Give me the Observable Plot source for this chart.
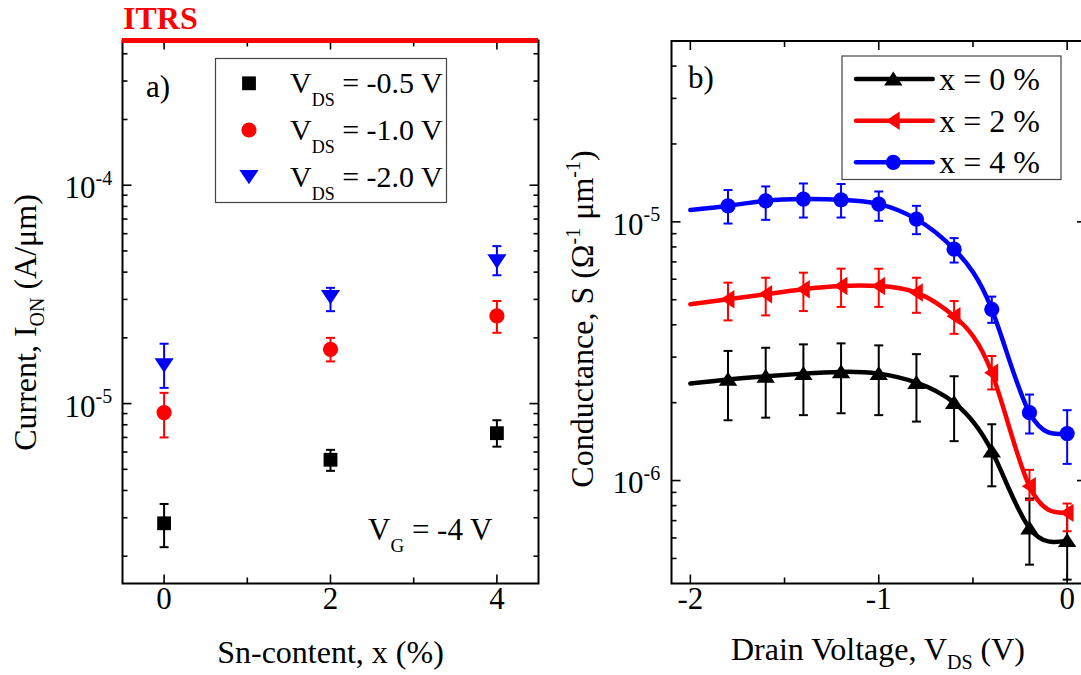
<!DOCTYPE html>
<html><head><meta charset="utf-8">
<script src="https://cdn.jsdelivr.net/npm/d3@7"></script>
<script src="https://cdn.jsdelivr.net/npm/@observablehq/plot@0.6"></script>
<style>
html,body{margin:0;padding:0;background:#fff;overflow:hidden;width:1081px;height:675px;}
#wrap{position:relative;width:1081px;height:675px;overflow:hidden;background:#fff;}
#wrap svg{position:absolute;top:0;}
</style></head><body><div id="wrap"></div>
<script>
// ---------- Panel a data ----------
const snContent = [0, 2, 4];
const ion05 = [2.83e-6, 5.53e-6, 7.32e-6];
const ion05Lo = [2.2e-6, 4.92e-6, 6.35e-6];
const ion05Hi = [3.47e-6, 6.14e-6, 8.39e-6];
const ion10 = [9.1e-6, 1.77e-5, 2.52e-5];
const ion10Lo = [7.0e-6, 1.56e-5, 2.11e-5];
const ion10Hi = [1.12e-5, 2.0e-5, 2.95e-5];
const ion20 = [1.50e-5, 3.08e-5, 4.49e-5];
const ion20Lo = [1.18e-5, 2.65e-5, 3.87e-5];
const ion20Hi = [1.88e-5, 3.39e-5, 5.26e-5];
const itrsLevel = [4.6e-4];
const legendA = ["-0.5", "-1.0", "-2.0"];

// ---------- Panel b data ----------
const vds = [-1.8, -1.6, -1.4, -1.2, -1.0, -0.8, -0.6, -0.4, -0.2, 0];
const g0 = [2.46e-6, 2.53e-6, 2.59e-6, 2.63e-6, 2.59e-6, 2.39e-6, 2.0e-6, 1.30e-6, 6.55e-7, 5.86e-7];
const g0Lo = [1.71e-6, 1.75e-6, 1.79e-6, 1.82e-6, 1.79e-6, 1.69e-6, 1.42e-6, 9.5e-7, 4.73e-7, 4.14e-7];
const g0Hi = [3.17e-6, 3.26e-6, 3.36e-6, 3.39e-6, 3.33e-6, 3.08e-6, 2.53e-6, 1.65e-6, 8.52e-7, 7.56e-7];
const g2 = [5.02e-6, 5.25e-6, 5.49e-6, 5.65e-6, 5.65e-6, 5.33e-6, 4.32e-6, 2.61e-6, 9.5e-7, 7.5e-7];
const g2Lo = [4.16e-6, 4.35e-6, 4.52e-6, 4.69e-6, 4.69e-6, 4.45e-6, 3.69e-6, 2.25e-6, 8.4e-7, 6.37e-7];
const g2Hi = [5.82e-6, 6.08e-6, 6.36e-6, 6.59e-6, 6.59e-6, 6.08e-6, 4.94e-6, 3.03e-6, 1.10e-6, 8.15e-7];
const g4 = [1.153e-5, 1.206e-5, 1.224e-5, 1.217e-5, 1.171e-5, 1.024e-5, 7.84e-6, 4.59e-6, 1.83e-6, 1.52e-6];
const g4Lo = [9.85e-6, 1.018e-5, 1.039e-5, 1.039e-5, 1.009e-5, 8.96e-6, 6.96e-6, 4.07e-6, 1.52e-6, 1.16e-6];
const g4Hi = [1.327e-5, 1.37e-5, 1.407e-5, 1.40e-5, 1.31e-5, 1.153e-5, 8.65e-6, 5.14e-6, 2.15e-6, 1.87e-6];
// fitted curves start at V_DS = -2 (no marker there)
const curveStartV = -2;
const curveStart = [2.37e-6, 4.8e-6, 1.11e-5];
const legendB = ["x = 0 %", "x = 2 %", "x = 4 %"];

// ---------- tick values ----------
const xMajorA = [0, 2, 4], xMinorA = [1, 3];
const yMajorA = [1e-4, 1e-5], yExpA = ["-4", "-5"];
const yMinorA = [2e-6,3e-6,4e-6,5e-6,6e-6,7e-6,8e-6,9e-6,2e-5,3e-5,4e-5,5e-5,6e-5,7e-5,8e-5,9e-5,2e-4,3e-4,4e-4];
const xMajorB = [-2, -1, 0], xMinorB = [-1.5, -0.5];
const yMajorB = [1e-5, 1e-6], yExpB = ["-5", "-6"];
const yMinorB = [5e-7,6e-7,7e-7,8e-7,9e-7,2e-6,3e-6,4e-6,5e-6,6e-6,7e-6,8e-6,9e-6,2e-5,3e-5,4e-5];

const FONT = "'Liberation Serif','Times New Roman',Times,serif";
const BLACK = "#000000", RED = "#ff0000", BLUE = "#0000ff";

// ---------- symbols ----------
const mkTick = (dx, dy) => ({draw(c){ c.moveTo(0,0); c.lineTo(dx,dy); }});
const cap = {draw(c){ c.moveTo(-4.5,0); c.lineTo(4.5,0); }};
const triDown = {draw(c, s){ const r = Math.sqrt(s/Math.PI); c.moveTo(0, r*0.95); c.lineTo(-r*1.2, -r*0.85); c.lineTo(r*1.2, -r*0.85); c.closePath(); }};
const triUp = {draw(c, s){ const r = Math.sqrt(s/Math.PI); c.moveTo(0, -r*0.95); c.lineTo(-r*1.15, r*0.8); c.lineTo(r*1.15, r*0.8); c.closePath(); }};
const triLeft = {draw(c, s){ const r = Math.sqrt(s/Math.PI); c.moveTo(-r*0.95, 0); c.lineTo(r*0.8, -r*1.15); c.lineTo(r*0.8, r*1.15); c.closePath(); }};

function frameTicks(xMaj, xMin, yMaj, yMin) {
  const t = (data, ch, anchor, sym) => Plot.dot(data, {[ch]: d => d, frameAnchor: anchor, symbol: sym, stroke: BLACK, fill: "none", strokeWidth: 1.6});
  return [
    t(xMaj, "x", "bottom", mkTick(0,-9)), t(xMaj, "x", "top", mkTick(0,9)),
    t(xMin, "x", "bottom", mkTick(0,-6)), t(xMin, "x", "top", mkTick(0,6)),
    t(yMaj, "y", "left", mkTick(9,0)), t(yMaj, "y", "right", mkTick(-9,0)),
    t(yMin, "y", "left", mkTick(5,0)), t(yMin, "y", "right", mkTick(-5,0))
  ];
}
function yLabels(vals, exps, dxTen) {
  return [
    Plot.text(vals, {y: d => d, frameAnchor: "left", text: () => "10", textAnchor: "end", dx: dxTen, dy: 3, fontSize: 31, fill: BLACK}),
    Plot.text(vals, {y: d => d, frameAnchor: "left", text: (d, i) => exps[i], textAnchor: "start", dx: dxTen, dy: -7, fontSize: 20, fill: BLACK})
  ];
}
function errSeries(rows, color, mark) {
  return [
    Plot.ruleX(rows, {x: "x", y1: "lo", y2: "hi", stroke: color, strokeWidth: 2}),
    Plot.dot(rows, {x: "x", y: "hi", symbol: cap, stroke: color, fill: "none", strokeWidth: 2}),
    Plot.dot(rows, {x: "x", y: "lo", symbol: cap, stroke: color, fill: "none", strokeWidth: 2}),
    mark
  ];
}
const rowsOf = (xs, ys, lo, hi) => xs.map((x, i) => ({x, y: ys[i], lo: lo[i], hi: hi[i]}));

// ---------- Panel a ----------
const ra05 = rowsOf(snContent, ion05, ion05Lo, ion05Hi);
const ra10 = rowsOf(snContent, ion10, ion10Lo, ion10Hi);
const ra20 = rowsOf(snContent, ion20, ion20Lo, ion20Hi);

const svgA = Plot.plot({
  width: 560, height: 675,
  marginLeft: 122, marginRight: 22, marginTop: 40, marginBottom: 92,
  x: {domain: [-0.5, 4.5], axis: null},
  y: {type: "log", domain: [1.5e-6, 4.6e-4], axis: null},
  style: {fontFamily: FONT, background: "transparent", overflow: "visible", color: BLACK},
  marks: [
    Plot.frame({stroke: BLACK, strokeWidth: 2}),
    ...frameTicks(xMajorA, xMinorA, yMajorA, yMinorA),
    Plot.text(xMajorA, {x: d => d, frameAnchor: "bottom", text: d => String(d), dy: 25, fontSize: 31, fill: BLACK}),
    ...yLabels(yMajorA, yExpA, -27),
    Plot.ruleY(itrsLevel, {stroke: RED, strokeWidth: 5}),
    ...errSeries(ra05, BLACK, Plot.dot(ra05, {x: "x", y: "y", symbol: "square", r: 7.8, fill: BLACK, stroke: "none"})),
    ...errSeries(ra10, RED, Plot.dot(ra10, {x: "x", y: "y", symbol: "circle", r: 7.6, fill: RED, stroke: "none"})),
    ...errSeries(ra20, BLUE, Plot.dot(ra20, {x: "x", y: "y", symbol: triDown, r: 8, fill: BLUE, stroke: "none"}))
  ]
});
svgA.style.left = "0px";

// ---------- Panel b ----------
const rb0 = rowsOf(vds, g0, g0Lo, g0Hi);
const rb2 = rowsOf(vds, g2, g2Lo, g2Hi);
const rb4 = rowsOf(vds, g4, g4Lo, g4Hi);
const curveOf = (rows, k) => [{x: curveStartV, y: curveStart[k]}, ...rows];

const svgB = Plot.plot({
  width: 540, height: 675,
  marginLeft: 111, marginRight: 14.5, marginTop: 40.5, marginBottom: 92,
  x: {domain: [-2.1, 0.1], axis: null},
  y: {type: "log", domain: [4e-7, 5e-5], axis: null},
  style: {fontFamily: FONT, background: "transparent", overflow: "visible", color: BLACK},
  marks: [
    Plot.frame({stroke: BLACK, strokeWidth: 2}),
    ...frameTicks(xMajorB, xMinorB, yMajorB, yMinorB),
    Plot.text(xMajorB, {x: d => d, frameAnchor: "bottom", text: d => String(d), dy: 25, fontSize: 31, fill: BLACK}),
    ...yLabels(yMajorB, yExpB, -28),
    Plot.line(curveOf(rb0, 0), {x: "x", y: "y", curve: "natural", stroke: BLACK, strokeWidth: 4.5}),
    Plot.line(curveOf(rb2, 1), {x: "x", y: "y", curve: "natural", stroke: RED, strokeWidth: 4.5}),
    Plot.line(curveOf(rb4, 2), {x: "x", y: "y", curve: "natural", stroke: BLUE, strokeWidth: 4.5}),
    ...errSeries(rb0, BLACK, Plot.dot(rb0, {x: "x", y: "y", symbol: triUp, r: 8, fill: BLACK, stroke: "none"})),
    ...errSeries(rb2, RED, Plot.dot(rb2, {x: "x", y: "y", symbol: triLeft, r: 8, fill: RED, stroke: "none"})),
    ...errSeries(rb4, BLUE, Plot.dot(rb4, {x: "x", y: "y", symbol: "circle", r: 7.6, fill: BLUE, stroke: "none"}))
  ]
});
svgB.style.left = "560px";

const wrap = document.getElementById("wrap");
wrap.appendChild(svgA);
wrap.appendChild(svgB);

// ---------- annotations (text with sub/superscripts) ----------
function richText(g, x, y, parts, opts = {}) {
  const t = g.append("text").attr("x", x).attr("y", y)
    .attr("font-family", FONT).attr("fill", opts.fill || BLACK)
    .attr("text-anchor", opts.anchor || "start");
  if (opts.transform) t.attr("transform", opts.transform).attr("x", 0).attr("y", 0);
  if (opts.weight) t.attr("font-weight", opts.weight);
  parts.forEach(p => {
    const s = t.append("tspan").attr("font-size", p.size).text(p.t);
    if (p.dy) s.attr("dy", p.dy);
    if (p.dx) s.attr("dx", p.dx);
  });
  return t;
}
const symPath = (sym, r) => { const p = d3.path(); sym.draw(p, r * r * Math.PI); return p.toString(); };

// Panel a overlays
const gA = d3.select(svgA).append("g");
richText(gA, 123, 29, [{t: "ITRS", size: 32}], {fill: RED, weight: "bold"});
richText(gA, 146, 97, [{t: "a)", size: 31}]);
richText(gA, 368, 540, [{t: "V", size: 31}, {t: "G", size: 19, dy: 12}, {t: " = -4 V", size: 31, dy: -12}]);
richText(gA, 330.5, 663, [{t: "Sn-content, x (%)", size: 32}], {anchor: "middle"});
richText(gA, 0, 0, [{t: "Current, I", size: 32}, {t: "ON", size: 20, dy: 8}, {t: " (A/\u03bcm)", size: 32, dy: -8}], {anchor: "middle", transform: "translate(36,322.5) rotate(-90)"});
gA.append("rect").attr("x", 215.5).attr("y", 58.5).attr("width", 231).attr("height", 144)
  .attr("fill", "white").attr("stroke", "#444").attr("stroke-width", 1.2);
const legYA = [83.3, 130, 176.7];
const legSymA = [{s: d3.symbolSquare, c: BLACK}, {s: d3.symbolCircle, c: RED}, {s: triDown, c: BLUE}];
legendA.forEach((v, i) => {
  const y = legYA[i];
  const r = i === 0 ? 7.8 : (i === 1 ? 7.6 : 8);
  gA.append("path").attr("d", symPath(legSymA[i].s, r)).attr("transform", `translate(249,${y})`).attr("fill", legSymA[i].c);
  richText(gA, 290, y + 10, [{t: "V", size: 30}, {t: "DS", size: 18, dy: 13}, {t: ` = ${v} V`, size: 30, dy: -13}]);
});

// Panel b overlays
const gB = d3.select(svgB).append("g");
richText(gB, 128, 88, [{t: "b)", size: 31}]);
richText(gB, 318, 660, [{t: "Drain Voltage, V", size: 32}, {t: "DS", size: 20, dy: 9}, {t: " (V)", size: 32, dy: -9}], {anchor: "middle"});
richText(gB, 0, 0, [
  {t: "Conductance, S (\u03a9", size: 32}, {t: "-1", size: 20, dy: -13},
  {t: " \u03bcm", size: 32, dy: 13}, {t: "-1", size: 20, dy: -13}, {t: ")", size: 32, dy: 13}
], {anchor: "middle", transform: "translate(33,319) rotate(-90)"});
gB.append("rect").attr("x", 282).attr("y", 56).attr("width", 219).attr("height", 123.5)
  .attr("fill", "white").attr("stroke", "#444").attr("stroke-width", 1.2);
const legYB = [79, 120.7, 162.3];
const legSymB = [{s: triUp, c: BLACK}, {s: triLeft, c: RED}, {s: d3.symbolCircle, c: BLUE}];
legendB.forEach((lab, i) => {
  const y = legYB[i];
  gB.append("line").attr("x1", 296).attr("x2", 372.7).attr("y1", y).attr("y2", y)
    .attr("stroke", legSymB[i].c).attr("stroke-width", 4.5).attr("stroke-linecap", "round");
  gB.append("path").attr("d", symPath(legSymB[i].s, i === 2 ? 7.6 : 8)).attr("transform", `translate(333.3,${y})`).attr("fill", legSymB[i].c);
  richText(gB, 379.3, y + 11, [{t: lab, size: 32}]);
});
</script></body></html>
